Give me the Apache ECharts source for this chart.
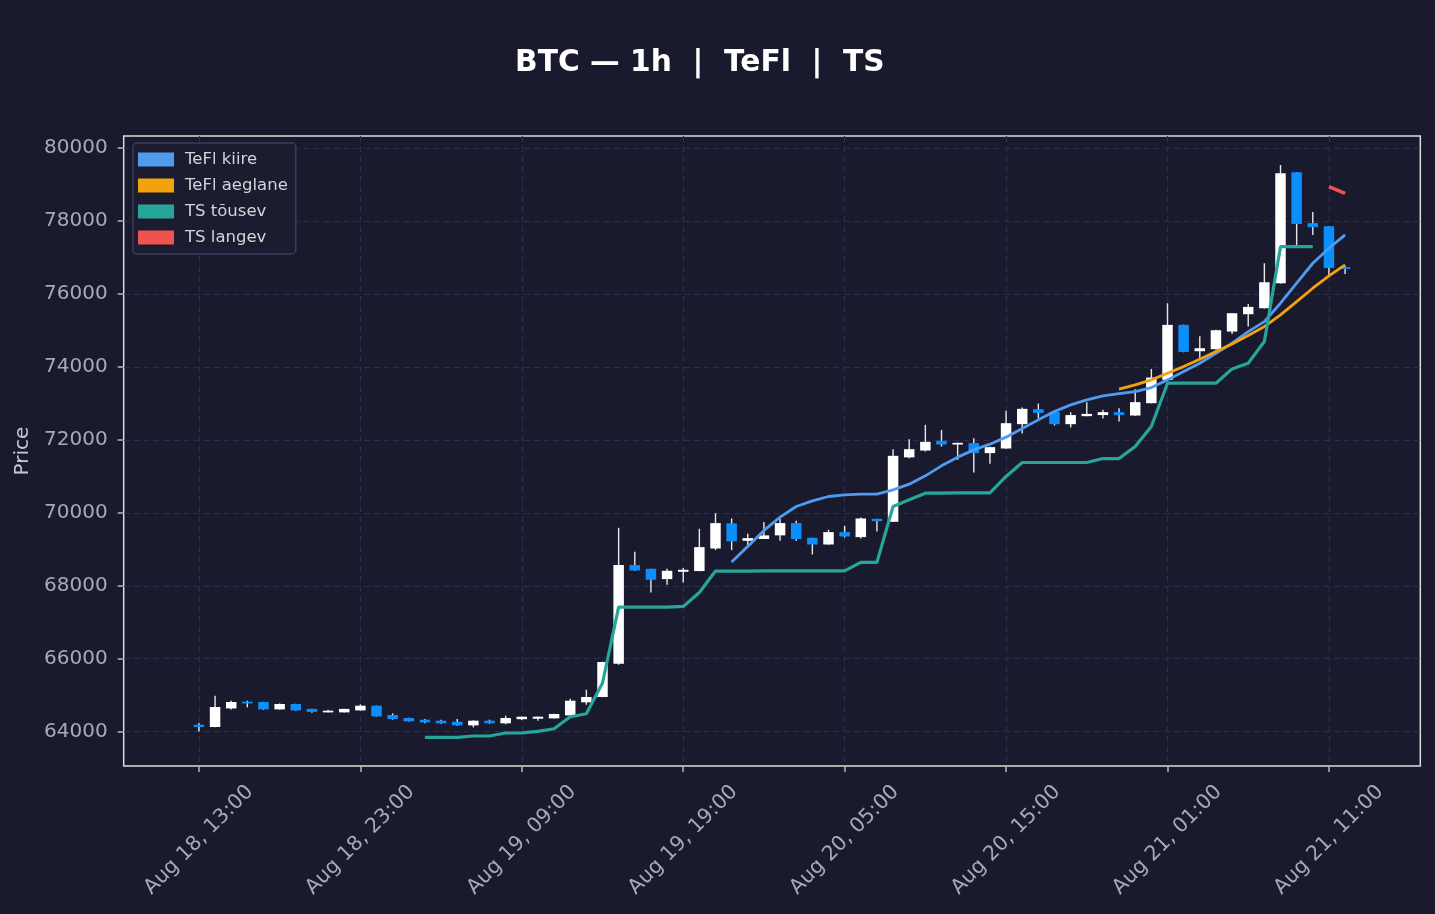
<!DOCTYPE html>
<html>
<head>
<meta charset="utf-8">
<script src="https://cdn.jsdelivr.net/npm/echarts@6.0.0/dist/echarts.min.js"></script>
<style>
html, body { margin: 0; padding: 0; background: #1a1a2e; }
#main { width: 1435px; height: 914px; }
</style>
</head>
<body>
<div id="main"></div>
<script>
// hourly candles, index 0 = Aug 18 13:00
var opens = [64192,64129,64638,64822,64814,64612,64759,64625,64530,64530,
    64584,64713,64458,64376,64329,64302,64274,64173,64302,64230,
    64343,64357,64365,64447,64805,64951,65863,68567,68466,68183,
    68384,68403,69022,69709,69233,69283,69382,69718,69315,69132,
    69471,69334,69836,69754,71520,71707,71973,71872,71910,71636,
    71763,72430,72840,72767,72430,72650,72679,72759,72667,73005,
    73644,75151,74430,74485,74968,75444,75608,76293,79334,77940,
    77855,76734];
var closes = [64129,64677,64814,64775,64612,64759,64584,64542,64576,64625,
    64713,64420,64349,64285,64256,64230,64173,64302,64230,64376,
    64411,64411,64485,64850,64951,65910,68567,68420,68164,68411,
    68438,69060,69718,69216,69307,69382,69718,69283,69132,69471,
    69351,69845,69772,71562,71745,71945,71872,71918,71636,71800,
    72457,72850,72735,72430,72679,72712,72759,72679,73033,73707,
    75151,74411,74512,75005,75471,75644,76321,79307,77918,77830,
    76712,76685];
var lows = [64009,64120,64612,64667,64600,64605,64575,64520,64525,64525,
    64580,64415,64330,64280,64230,64220,64165,64119,64220,64203,
    64320,64302,64360,64440,64740,64945,65836,68410,67817,68027,
    68091,68400,68978,68978,69096,69280,69233,69233,68858,69125,
    69323,69297,69488,69750,71493,71680,71817,71452,71105,71342,
    71755,72173,72594,72395,72337,72645,72584,72503,72660,73000,
    73630,74400,74238,74480,74904,75104,75600,76280,77296,77616,
    76521,76548];
var highs = [64238,64986,64849,64849,64820,64775,64765,64630,64603,64630,
    64749,64715,64502,64380,64350,64330,64347,64310,64330,64439,
    64420,64415,64490,64904,65151,65920,69589,68932,68470,68466,
    68484,69562,69992,69845,69425,69745,69836,69781,69320,69534,
    69644,69873,69840,71745,72019,72411,72274,71925,72047,71810,
    72795,72886,72995,72770,72759,73033,72822,72869,73389,73945,
    75745,75160,74841,75020,75480,75726,76841,79534,79340,78247,
    77860,76767];

// indicator lines, each starts at its own candle index
var teflFastStart = 33;
var teflFast = [68652,69080,69518,69882,70173,70329,70447,70493,70512,70512,
    70630,70786,71014,71288,71526,71726,71882,72074,72310,72548,
    72776,72959,73096,73205,73269,73324,73433,73644,73872,74101,
    74375,74649,74968,75241,75745,76293,76841,77252,77619];
var teflSlowStart = 57;
var teflSlow = [73388,73507,73644,73827,74008,74211,74422,74630,74858,75104,
    75425,75790,76156,76493,76795];
var tsUpStart = 14;
var tsUp = [63844,63844,63844,63882,63882,63964,63970,64009,64082,64411,
    64493,65334,67416,67416,67416,67416,67434,67817,68403,68403,
    68403,68410,68410,68410,68410,68410,68410,68643,68643,70173,
    70356,70539,70539,70548,70548,70548,70996,71379,71379,71379,
    71379,71379,71488,71488,71817,72365,73553,73553,73553,73553,
    73945,74101,74694,77296,77296,77296];
var tsDownStart = 70;
var tsDown = [78940,78758];

var xTickPos = [0,10,20,30,40,50,60,70];
var xTickLabels = ['Aug 18, 13:00','Aug 18, 23:00','Aug 19, 09:00','Aug 19, 19:00',
    'Aug 20, 05:00','Aug 20, 15:00','Aug 21, 01:00','Aug 21, 11:00'];
var yTicks = [64000,66000,68000,70000,72000,74000,76000,78000,80000];

var upColor = '#ffffff';
var downColor = '#0a8fff';
var wickColor = '#e8e8e8';
var labelColor = '#a9a9b3';
var font = 'DejaVu Sans';

function toPoints(start, values) {
    var out = [];
    for (var i = 0; i < values.length; i++) {
        out.push([start + i, values[i]]);
    }
    return out;
}

var candleData = [];
for (var i = 0; i < opens.length; i++) {
    candleData.push([i, opens[i], closes[i], lows[i], highs[i]]);
}

function renderCandle(params, api) {
    var x = api.value(0);
    var o = api.value(1), c = api.value(2), l = api.value(3), h = api.value(4);
    var pO = api.coord([x, o]), pC = api.coord([x, c]);
    var pL = api.coord([x, l]), pH = api.coord([x, h]);
    var w = api.size([1, 0])[0] * 0.65;
    var top = Math.min(pO[1], pC[1]);
    var bodyH = Math.max(Math.abs(pO[1] - pC[1]), 1.2);
    return {
        type: 'group',
        children: [
            {type: 'line', shape: {x1: pH[0], y1: pH[1], x2: pL[0], y2: pL[1]},
                style: {stroke: wickColor, lineWidth: 1.4}},
            {type: 'rect', shape: {x: pO[0] - w / 2, y: top, width: w, height: bodyH},
                style: {fill: c >= o ? upColor : downColor}}
        ]
    };
}

function lineSeries(name, data, color, width) {
    return {
        name: name,
        type: 'line',
        data: data,
        showSymbol: false,
        symbol: 'none',
        z: 5,
        lineStyle: {color: color, width: width},
        itemStyle: {color: color}
    };
}

var chart = echarts.init(document.getElementById('main'));
chart.setOption({
    animation: false,
    backgroundColor: '#1a1a2e',
    title: {
        text: 'BTC \u2014 1h  |  TeFl  |  TS',
        left: 510,
        top: 43,
        textStyle: {color: '#ffffff', fontSize: 29.7, fontWeight: 'bold', fontFamily: font}
    },
    legend: {
        orient: 'vertical',
        left: 133,
        top: 143,
        padding: [8, 8, 8, 5],
        itemWidth: 36,
        itemHeight: 14,
        itemGap: 9,
        icon: 'rect',
        backgroundColor: '#1c1c31',
        borderColor: '#3c3c5e',
        borderWidth: 1.5,
        borderRadius: 4,
        data: ['TeFl kiire', 'TeFl aeglane', 'TS t\u00f5usev', 'TS langev'],
        textStyle: {color: '#d4d4d8', fontSize: 16.5, fontFamily: font, padding: [0, 0, 0, 6]}
    },
    grid: {
        left: 123.7,
        right: 14.7,
        top: 136,
        bottom: 148,
        outerBoundsMode: 'none',
        show: true,
        borderColor: '#dcdcdc',
        borderWidth: 1.5
    },
    xAxis: {
        type: 'value',
        min: -4.66,
        max: 75.66,
        splitNumber: 8,
        axisLine: {show: false, onZero: false},
        axisTick: {show: true, length: 6, customValues: xTickPos,
            lineStyle: {color: '#b8b8b8', width: 1.5}},
        axisLabel: {
            customValues: xTickPos,
            rotate: 45,
            align: 'center',
            verticalAlign: 'middle',
            margin: 74,
            color: labelColor,
            fontSize: 20.5,
            fontFamily: font,
            formatter: function (v) {
                var k = xTickPos.indexOf(Math.round(v));
                return k >= 0 ? xTickLabels[k] : '';
            }
        },
        splitLine: {show: true, lineStyle: {color: '#2c2c4c', type: [6, 4], width: 1.2}}
    },
    yAxis: {
        type: 'value',
        min: 63060,
        max: 80329,
        splitNumber: 8,
        name: 'Price',
        nameLocation: 'middle',
        nameGap: 86,
        nameRotate: 90,
        nameTextStyle: {color: '#c8c8cc', fontSize: 20, fontFamily: font},
        axisLine: {show: false, onZero: false},
        axisTick: {show: true, length: 6, customValues: yTicks,
            lineStyle: {color: '#b8b8b8', width: 1.5}},
        axisLabel: {
            customValues: yTicks,
            margin: 16,
            color: labelColor,
            fontSize: 20,
            fontFamily: font,
            formatter: function (v) { return String(v); }
        },
        splitLine: {show: true, lineStyle: {color: '#2c2c4c', type: [6, 4], width: 1.2}}
    },
    series: [
        {
            name: 'BTC',
            type: 'custom',
            renderItem: renderCandle,
            encode: {x: 0, y: [1, 2, 3, 4]},
            data: candleData,
            clip: true,
            z: 2
        },
        lineSeries('TeFl kiire', toPoints(teflFastStart, teflFast), '#4f9bf0', 2.8),
        lineSeries('TeFl aeglane', toPoints(teflSlowStart, teflSlow), '#f2a30c', 2.8),
        lineSeries('TS t\u00f5usev', toPoints(tsUpStart, tsUp), '#26a69a', 3.2),
        lineSeries('TS langev', toPoints(tsDownStart, tsDown), '#ef5350', 3.5)
    ]
});
</script>
</body>
</html>
